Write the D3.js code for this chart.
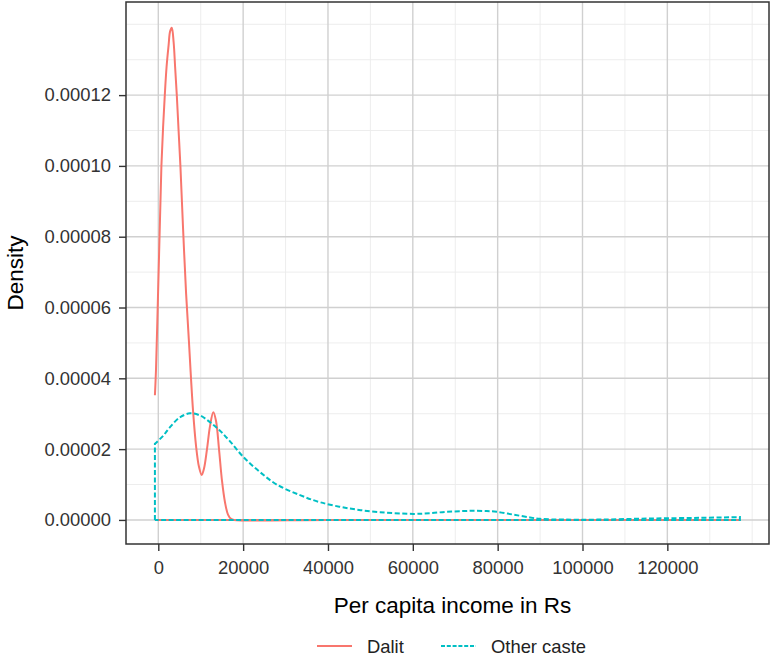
<!DOCTYPE html>
<html>
<head>
<meta charset="utf-8">
<script src="https://cdn.jsdelivr.net/npm/d3@7"></script>
<style>
  body { margin: 0; background: #fff; }
  text { font-family: "Liberation Sans", Arial, sans-serif; }
</style>
</head>
<body>
<div id="chart"></div>
<script>
// Density estimates (income in Rs, density)
var dalitX = [-800, -550, -80, 400, 730, 1130, 1530, 1950, 2420, 2780, 3180,
  3610, 3960, 4360, 4780, 5210, 5850, 6550, 7240, 7710, 8180, 8890, 9590,
  10230, 10770, 11480, 12190, 12970, 13600, 14310, 15020, 15720, 16430,
  17140, 17840, 40000, 80000, 137100];
var dalitY = [0.0000352, 0.0000422, 0.000063, 0.000085, 0.000100, 0.000111,
  0.000120, 0.000128, 0.000134, 0.000138, 0.000139, 0.000135, 0.000128,
  0.000120, 0.000110, 0.000100, 0.000082, 0.000064, 0.000050, 0.000040,
  0.000031, 0.000021, 0.000015, 0.0000127, 0.0000145, 0.000020, 0.0000265,
  0.0000304, 0.000028, 0.000020, 0.000011, 0.000005, 0.0000015, 0.0000003,
  0, 0, 0, 0];

var otherX = [-800, 1180, 2760, 5120, 7470, 9830, 12190, 14550, 16900, 20040,
  23980, 27910, 33410, 38130, 45200, 52270, 60120, 64060, 67990, 71900, 74260,
  77420, 79780, 83690, 87630, 89990, 95400, 104100, 115900, 127700, 137100];
var otherY = [0.0000215, 0.0000238, 0.0000262, 0.0000290, 0.0000301,
  0.0000295, 0.0000276, 0.0000252, 0.0000222, 0.0000178, 0.0000135,
  0.0000100, 0.0000070, 0.0000050, 0.0000032, 0.0000022, 0.0000017,
  0.0000019, 0.0000023, 0.0000025, 0.0000026, 0.0000025, 0.0000023,
  0.0000015, 0.0000007, 0.0000003, 0.0000001, 0.0000001, 0.0000004,
  0.0000006, 0.0000008];

var groups = ["Dalit", "Other caste"];
var colors = ["#F8766D", "#00BFC4"];

var xTicks = [0, 20000, 40000, 60000, 80000, 100000, 120000];
var xMinor = [10000, 30000, 50000, 70000, 90000, 110000, 130000, 140000];
var yTicks = [0, 0.00002, 0.00004, 0.00006, 0.00008, 0.00010, 0.00012];
var yMinor = [0.00001, 0.00003, 0.00005, 0.00007, 0.00009, 0.00011, 0.00013, 0.00014];

var margin = {top: 2, right: 4, bottom: 115, left: 126},
    width = 773 - margin.left - margin.right,
    height = 659 - margin.top - margin.bottom;

var svg = d3.select("#chart")
  .append("svg")
  .attr("width", 773)
  .attr("height", 659)
  .append("g")
  .attr("transform", "translate(" + margin.left + "," + margin.top + ")");

var x = d3.scaleLinear()
  .domain([-7615, 143965])
  .range([0, width]);

var y = d3.scaleLinear()
  .domain([-0.0000068, 0.0001463])
  .range([height, 0]);

// grid lines, minor first
svg.selectAll(".xminor")
  .data(xMinor)
  .enter().append("line")
    .attr("x1", d => x(d)).attr("x2", d => x(d))
    .attr("y1", 0).attr("y2", height)
    .attr("stroke", "#ebebeb").attr("stroke-width", 0.9);

svg.selectAll(".yminor")
  .data(yMinor)
  .enter().append("line")
    .attr("x1", 0).attr("x2", width)
    .attr("y1", d => y(d)).attr("y2", d => y(d))
    .attr("stroke", "#ebebeb").attr("stroke-width", 0.9);

svg.selectAll(".xmajor")
  .data(xTicks)
  .enter().append("line")
    .attr("x1", d => x(d)).attr("x2", d => x(d))
    .attr("y1", 0).attr("y2", height)
    .attr("stroke", "#d0d0d0").attr("stroke-width", 1.4);

svg.selectAll(".ymajor")
  .data(yTicks)
  .enter().append("line")
    .attr("x1", 0).attr("x2", width)
    .attr("y1", d => y(d)).attr("y2", d => y(d))
    .attr("stroke", "#d0d0d0").attr("stroke-width", 1.4);

// Dalit: curve then back along the baseline
var dalit = dalitX.map((v, i) => [v, dalitY[i]]);
var dalitBase = [dalit[dalit.length - 1], [dalitX[dalitX.length - 1], 0], [dalitX[0], 0]];

// Other caste: full outline
var other = otherX.map((v, i) => [v, otherY[i]]);
var otherStart = [[otherX[0], 0], other[0]];
var otherEnd = [other[other.length - 1], [otherX[otherX.length - 1], 0], [otherX[0], 0]];

var line = d3.line()
  .x(d => x(d[0]))
  .y(d => y(d[1]))
  .curve(d3.curveCatmullRom.alpha(0.5));

var straight = d3.line()
  .x(d => x(d[0]))
  .y(d => y(d[1]));

svg.append("path")
  .attr("fill", "none")
  .attr("stroke", colors[0])
  .attr("stroke-width", 2)
  .attr("stroke-linejoin", "round")
  .attr("d", line(dalit) + straight(dalitBase).replace("M", "L"));

svg.append("path")
  .attr("fill", "none")
  .attr("stroke", colors[1])
  .attr("stroke-width", 2)
  .attr("stroke-dasharray", "5,2.5")
  .attr("d", straight(otherStart) + line(other).replace("M", "L") +
    straight(otherEnd).replace("M", "L"));

// panel border
svg.append("rect")
  .attr("x", 0).attr("y", 0)
  .attr("width", width).attr("height", height)
  .attr("fill", "none")
  .attr("stroke", "#333333")
  .attr("stroke-width", 1.5);

// axes
svg.append("g")
  .attr("transform", `translate(0, ${height})`)
  .call(d3.axisBottom(x).tickValues(xTicks).tickSize(7).tickPadding(10).tickFormat(d3.format("d")))
  .call(g => g.select(".domain").remove())
  .call(g => g.selectAll(".tick line").attr("stroke", "#333").attr("stroke-width", 1.4))
  .call(g => g.selectAll(".tick text")
    .attr("fill", "#333")
    .style("font-size", "18.4px")
    .style("font-family", "Liberation Sans, Arial, sans-serif"));

svg.append("g")
  .call(d3.axisLeft(y).tickValues(yTicks).tickSize(7).tickPadding(8).tickFormat(d3.format(".5f")))
  .call(g => g.select(".domain").remove())
  .call(g => g.selectAll(".tick line").attr("stroke", "#333").attr("stroke-width", 1.4))
  .call(g => g.selectAll(".tick text")
    .attr("fill", "#333")
    .style("font-size", "18.4px")
    .style("font-family", "Liberation Sans, Arial, sans-serif"));

// axis titles
svg.append("text")
  .attr("x", width / 2 + 5)
  .attr("y", height + 69)
  .attr("text-anchor", "middle")
  .style("font-size", "22.5px")
  .text("Per capita income in Rs");

svg.append("text")
  .attr("transform", `translate(${23 - margin.left}, ${height / 2}) rotate(-90)`)
  .attr("text-anchor", "middle")
  .style("font-size", "22.5px")
  .text("Density");

// legend
var legend = svg.append("g")
  .attr("transform", `translate(${317 - margin.left}, ${646 - margin.top})`);

var keyX = [0, 124];
groups.forEach(function(g, i) {
  legend.append("line")
    .attr("x1", keyX[i]).attr("x2", keyX[i] + 35)
    .attr("y1", 0).attr("y2", 0)
    .attr("stroke", colors[i])
    .attr("stroke-width", 2)
    .attr("stroke-dasharray", i == 1 ? "4,1.8" : null);
  legend.append("text")
    .attr("x", keyX[i] + 50)
    .attr("y", 6.5)
    .attr("fill", "#222")
    .style("font-size", "18.4px")
    .text(g);
});
</script>
</body>
</html>
